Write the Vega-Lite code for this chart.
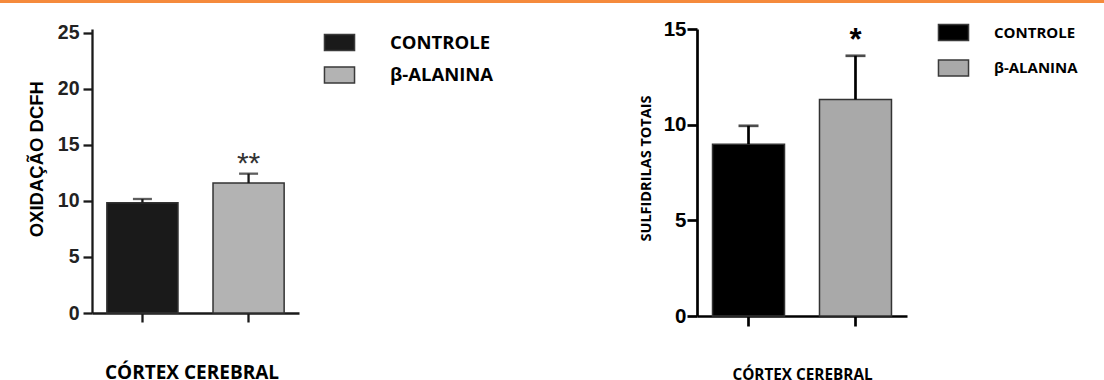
{
  "$schema": "https://vega.github.io/schema/vega-lite/v6.json",
  "autosize": {"type": "pad"},
  "padding": 0,
  "background": "white",
  "bounds": "flush",
  "spacing": 26,
  "config": {"view": {"stroke": null}, "axis": {"grid": false}},
  "vconcat": [
    {
      "width": 1104,
      "height": 3,
      "data": {"values": [{"faixa": 1}]},
      "mark": {"type": "rect", "color": "#f58a3c"},
      "encoding": {}
    },
    {
      "bounds": "flush",
      "spacing": 0,
      "resolve": {
        "scale": {"x": "independent", "y": "independent", "color": "independent"},
        "legend": {"color": "independent"}
      },
      "hconcat": [
        {"width": 92, "height": 284, "data": {"values": []}, "mark": "point"},
        {
          "width": 207,
          "height": 284,
          "data": {"values": [
            {"grupo": "CONTROLE", "media": 9.85, "sup": 10.18, "sig": ""},
            {"grupo": "β-ALANINA", "media": 11.6, "sup": 12.44, "sig": "**"}
          ]},
          "encoding": {
            "x": {
              "field": "grupo", "type": "nominal", "sort": null,
              "scale": {"paddingInner": 0.33, "paddingOuter": 0.14},
              "axis": {
                "title": "CÓRTEX CEREBRAL", "labels": false,
                "tickSize": 9, "tickWidth": 2.3, "tickColor": "#1a1a1a",
                "domainColor": "#1a1a1a", "domainWidth": 2.3,
                "titleFont": "Open Sans", "titleFontWeight": "bold", "titleFontSize": 19, "titleColor": "#000",
                "titleX": 99.5, "titleY": 65, "titleBaseline": "alphabetic", "titleAlign": "center"
              }
            },
            "y": {
              "field": "media", "type": "quantitative",
              "scale": {"domain": [0, 25.357], "nice": false},
              "axis": {
                "title": "OXIDAÇÃO DCFH", "values": [0, 5, 10, 15, 20, 25],
                "tickSize": 9, "tickWidth": 2.3, "tickColor": "#1a1a1a",
                "domainColor": "#1a1a1a", "domainWidth": 2.3,
                "labelFont": "Liberation Sans", "labelFontWeight": "bold", "labelFontSize": 19.5,
                "labelColor": "#222222", "labelPadding": 4, "labelFlush": false, "labelOverlap": false,
                "titleFont": "Liberation Sans", "titleFontWeight": "bold", "titleFontSize": 18.5, "titleColor": "#000",
                "titleX": -49.7, "titleY": 129.7, "titleAngle": 270, "titleBaseline": "alphabetic", "titleAlign": "center"
              }
            }
          },
          "layer": [
            {
              "mark": {"type": "bar", "stroke": "#333333", "strokeWidth": 1.5},
              "encoding": {
                "color": {
                  "field": "grupo", "type": "nominal", "sort": null,
                  "scale": {"domain": ["CONTROLE", "β-ALANINA"], "range": ["#1a1a1a", "#b3b3b3"]},
                  "legend": {
                    "title": null, "orient": "none", "legendX": 231, "legendY": -3, "direction": "vertical",
                    "symbolType": "M-0.97,-0.52H0.97V0.52H-0.97Z", "symbolSize": 961,
                    "symbolStrokeColor": "#3a3a3a", "symbolStrokeWidth": 1.5, "symbolOpacity": 1,
                    "labelFont": "Open Sans", "labelFontWeight": "bold", "labelFontSize": 18.5, "labelColor": "#000",
                    "labelOffset": 34, "rowPadding": 4.5, "padding": 0, "labelLimit": 300
                  }
                }
              }
            },
            {
              "mark": {"type": "rule", "strokeWidth": 2.3, "color": "#1a1a1a"},
              "encoding": {"y2": {"field": "sup"}}
            },
            {
              "mark": {"type": "tick", "size": 19, "thickness": 2.3, "color": "#1a1a1a"},
              "encoding": {"y": {"field": "sup", "type": "quantitative", "title": "OXIDAÇÃO DCFH"}}
            },
            {
              "mark": {"type": "text", "font": "Liberation Sans", "fontSize": 30, "color": "#333333", "baseline": "alphabetic", "dy": -1},
              "encoding": {"y": {"field": "sup", "type": "quantitative", "title": "OXIDAÇÃO DCFH"}, "text": {"field": "sig"}}
            }
          ]
        },
        {"width": 398, "height": 287, "data": {"values": []}, "mark": "point"},
        {
          "width": 210,
          "height": 287,
          "data": {"values": [
            {"grupo": "CONTROLE", "media": 8.98, "sup": 9.94, "sig": ""},
            {"grupo": "β-ALANINA", "media": 11.32, "sup": 13.6, "sig": "*"}
          ]},
          "encoding": {
            "x": {
              "field": "grupo", "type": "nominal", "sort": null,
              "scale": {"paddingInner": 0.327, "paddingOuter": 0.145},
              "axis": {
                "title": "CÓRTEX CEREBRAL", "labels": false,
                "tickSize": 10, "tickWidth": 2.7, "tickColor": "#000",
                "domainColor": "#000", "domainWidth": 2.7,
                "titleFont": "Open Sans", "titleFontWeight": "bold", "titleFontSize": 15.3, "titleColor": "#000",
                "titleX": 105, "titleY": 63.5, "titleBaseline": "alphabetic", "titleAlign": "center"
              }
            },
            "y": {
              "field": "media", "type": "quantitative",
              "scale": {"domain": [0, 15], "nice": false},
              "axis": {
                "title": "SULFIDRILAS TOTAIS", "values": [0, 5, 10, 15],
                "tickSize": 10, "tickWidth": 2.7, "tickColor": "#000",
                "domainColor": "#000", "domainWidth": 2.7,
                "labelFont": "Liberation Sans", "labelFontWeight": "bold", "labelFontSize": 20.5,
                "labelColor": "#000", "labelPadding": 1, "labelFlush": false, "labelOverlap": false,
                "titleFont": "Open Sans", "titleFontWeight": "bold", "titleFontSize": 14.5, "titleColor": "#000",
                "titleX": -47, "titleY": 139, "titleAngle": 270, "titleBaseline": "alphabetic", "titleAlign": "center"
              }
            }
          },
          "layer": [
            {
              "mark": {"type": "bar", "stroke": "#333333", "strokeWidth": 1.5},
              "encoding": {
                "color": {
                  "field": "grupo", "type": "nominal", "sort": null,
                  "scale": {"domain": ["CONTROLE", "β-ALANINA"], "range": ["#000000", "#a9a9a9"]},
                  "legend": {
                    "title": null, "orient": "none", "legendX": 240, "legendY": -13, "direction": "vertical",
                    "symbolType": "M-0.97,-0.52H0.97V0.52H-0.97Z", "symbolSize": 961,
                    "symbolStrokeColor": "#3a3a3a", "symbolStrokeWidth": 1.5, "symbolOpacity": 1,
                    "labelFont": "Open Sans", "labelFontWeight": "bold", "labelFontSize": 15, "labelColor": "#000",
                    "labelOffset": 24, "rowPadding": 7.5, "padding": 0, "labelLimit": 300
                  }
                }
              }
            },
            {
              "mark": {"type": "rule", "strokeWidth": 2.7, "color": "#000"},
              "encoding": {"y2": {"field": "sup"}}
            },
            {
              "mark": {"type": "tick", "size": 20, "thickness": 2.7, "color": "#000"},
              "encoding": {"y": {"field": "sup", "type": "quantitative", "title": "SULFIDRILAS TOTAIS"}}
            },
            {
              "mark": {"type": "text", "font": "Liberation Sans", "fontWeight": "bold", "fontSize": 31, "color": "#000", "baseline": "alphabetic", "dy": -5.8},
              "encoding": {"y": {"field": "sup", "type": "quantitative", "title": "SULFIDRILAS TOTAIS"}, "text": {"field": "sig"}}
            }
          ]
        }
      ]
    }
  ]
}
